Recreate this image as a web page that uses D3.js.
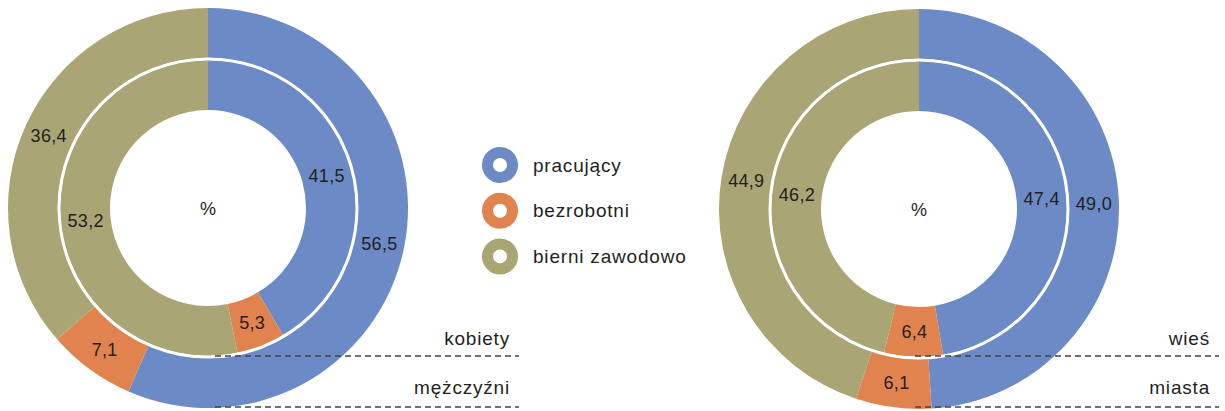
<!DOCTYPE html>
<html>
<head>
<meta charset="utf-8">
<script src="https://cdn.jsdelivr.net/npm/d3@7"></script>
<style>
  body { margin: 0; background: #fff; }
  text { font-family: "Liberation Sans", Arial, sans-serif; fill: #231f20; }
</style>
</head>
<body>
<div id="chart-area"></div>
<script>
// categories + values (percent)
var categories = ["pracujący", "bezrobotni", "bierni zawodowo"];
var colors = ["#6c8ac6", "#e0834f", "#a9a575"];

var kobiety   = [41.5, 5.3, 53.2];
var mezczyzni = [56.5, 7.1, 36.4];
var wies      = [47.4, 6.4, 46.2];
var miasta    = [49.0, 6.1, 44.9];

var width = 1225, height = 411;

var svg = d3.select("#chart-area")
    .append("svg")
        .attr("width", width)
        .attr("height", height);

var color = d3.scaleOrdinal().domain(categories).range(colors);

var pie = d3.pie().sort(null).value(function(d){ return d.value; });

function fmt(v){ return d3.format(".1f")(v).replace(".", ","); }

function donut(cx, cy, inner, outer, innerLabel, outerLabel, dashX0, dashX1){
    var g = svg.append("g")
        .attr("transform", "translate(" + cx + ", " + cy + ")");

    var rings = [
        { values: outer, r0: 150, r1: 200 },
        { values: inner, r0: 98, r1: 148 }
    ];

    rings.forEach(function(ring){
        var data = ring.values.map(function(v, i){ return { key: categories[i], value: v }; });
        var arc = d3.arc().innerRadius(ring.r0).outerRadius(ring.r1);
        var arcs = pie(data);

        g.selectAll(null)
            .data(arcs)
            .enter()
            .append("path")
                .attr("d", arc)
                .attr("fill", function(d){ return color(d.data.key); });

        g.selectAll(null)
            .data(arcs)
            .enter()
            .append("text")
                .attr("transform", function(d){ return "translate(" + arc.centroid(d) + ")"; })
                .attr("text-anchor", "middle")
                .attr("dy", "0.35em")
                .attr("font-size", "18px")
                .attr("letter-spacing", "0.3px")
                .text(function(d){ return fmt(d.data.value); });
    });

    // white separator
    g.append("circle")
        .attr("r", 149)
        .attr("fill", "none")
        .attr("stroke", "#fff")
        .attr("stroke-width", 3);

    g.append("text")
        .attr("text-anchor", "middle")
        .attr("dy", "0.4em")
        .attr("font-size", "18px")
        .text("%");

    // dashed lines + ring names
    var lines = [
        { y: 356, label: innerLabel, ty: 345 },
        { y: 407, label: outerLabel, ty: 394 }
    ];
    lines.forEach(function(l){
        svg.append("line")
            .attr("x1", dashX0).attr("x2", dashX1)
            .attr("y1", l.y).attr("y2", l.y)
            .attr("stroke", "#444")
            .attr("stroke-width", 1.3)
            .attr("stroke-dasharray", "6,4");
        svg.append("text")
            .attr("x", dashX1 - 9)
            .attr("y", l.ty)
            .attr("text-anchor", "end")
            .attr("font-size", "19px")
            .attr("letter-spacing", "0.8px")
            .text(l.label);
    });
}

donut(208, 208, kobiety, mezczyzni, "kobiety", "mężczyźni", 215, 519);
donut(919, 209, wies, miasta, "wieś", "miasta", 915, 1219);

// Legend
var legend = svg.append("g")
    .attr("transform", "translate(500, 165)");

var items = legend.selectAll("g")
    .data(categories)
    .enter()
    .append("g")
        .attr("transform", function(d, i){ return "translate(0, " + (i * 45.7) + ")"; });

items.append("circle")
    .attr("r", 12.5)
    .attr("fill", "none")
    .attr("stroke", function(d){ return color(d); })
    .attr("stroke-width", 11);

items.append("text")
    .attr("x", 33)
    .attr("dy", "0.35em")
    .attr("font-size", "19px")
    .attr("letter-spacing", "0.8px")
    .text(function(d){ return d; });
</script>
</body>
</html>
